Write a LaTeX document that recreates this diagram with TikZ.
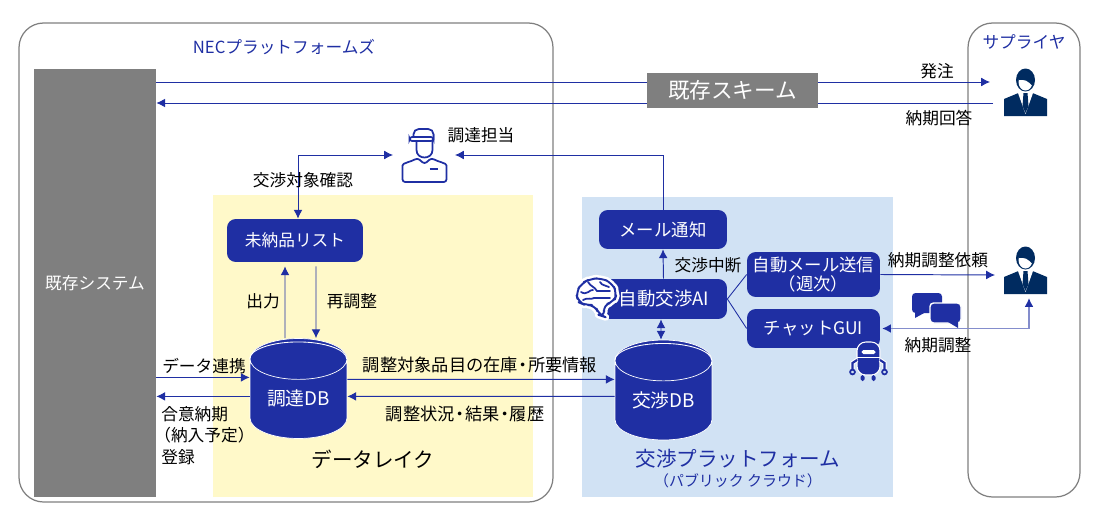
\documentclass[tikz,border=0pt]{standalone}
\usepackage{fontspec}
\setmainfont{Noto Sans CJK JP}
\usepackage{tikz}
\usetikzlibrary{arrows.meta,calc,positioning,shapes.geometric}
\definecolor{Navy}{HTML}{1F2FA3}
\definecolor{DeepNavy}{HTML}{002B60}
\definecolor{Ash}{HTML}{7F7F7F}
\definecolor{Lake}{HTML}{FFF9C9}
\definecolor{Cloud}{HTML}{D1E2F4}
\newcommand{\nakaten}{\hspace{-0.2em}・\hspace{-0.2em}}
\tikzset{
  conn/.style={draw=Navy,line width=0.55pt,-{Latex[length=5pt,width=5pt]}},
  bothconn/.style={draw=Navy,line width=0.55pt,{Latex[length=5pt,width=5pt,color=Navy]}-{Latex[length=5pt,width=5pt,color=Navy]}},
  frame/.style={draw=Ash,line width=0.7pt,rounded corners=14pt},
  bluebox/.style={fill=Navy,text=white,rounded corners=5pt,align=center,inner sep=0pt,font=\fontsize{9.9}{11}\selectfont},
  lbl/.style={font=\fontsize{9.5}{12.2}\selectfont,inner sep=0pt,align=left},
  wide/.style={font=\fontsize{9.8}{12}\selectfont},
  bigscheme/.style={font=\fontsize{11.7}{14}\selectfont},
  dbase/.style={cylinder,shape border rotate=90,shape aspect=0.65,fill=Navy,draw=white,line width=0.4pt,text=white,inner sep=0pt,anchor=shape center,
    minimum width=1.94cm,minimum height=2cm,font=\fontsize{10.7}{12}\selectfont},
  pics/suit/.style={code={
    \fill[DeepNavy] (-21.5,23) -- (-21.5,6) -- (-7,0) -- (7,0) -- (21.5,6) -- (21.5,23) -- cycle;
    \fill[white] (-7.5,0) -- (7.5,0) -- (0,21) -- cycle;
    \fill[DeepNavy] (-2,0) -- (2,0) -- (3,13) -- (0,20) -- (-3,13) -- cycle;
    \fill[DeepNavy] (0,-13) circle[x radius=9.5,y radius=11.5];
    \fill[white] (0,-11) circle[x radius=7,y radius=8.5];
    \fill[DeepNavy] (-7,-13) .. controls (-1,-14) and (3,-12) .. (7,-7) -- (8,-16) -- (0,-22) -- (-7,-18) -- cycle;
  }},
  pics/worker/.style={code={
    \draw[Navy,line width=1pt,line join=round,fill=white,rounded corners=1.5pt]
      (-22,25) -- (-22,11) .. controls (-22,6) and (-14,5) .. (-7,1) -- (0,7) -- (7,1)
      .. controls (14,5) and (22,6) .. (22,11) -- (22,25) -- cycle;
    \draw[Navy,line width=1pt,fill=white] (-8,-16) -- (-8,-7) .. controls (-8,3) and (8,3) .. (8,-7) -- (8,-16);
    \draw[Navy,line width=1pt,fill=white,rounded corners=3pt] (-11,-17) -- (-11,-28) -- (9,-28) -- (9,-17);
    \draw[Navy,line width=1pt,rounded corners=1.5pt,fill=white] (-15,-20) rectangle (9,-16);
    \draw[Navy,line width=1pt] (5,12) -- (13,12);
  }},
  pics/brain/.style={code={
    \path[draw=white,line width=4pt,fill=white,line join=round,rounded corners=4pt]
      (-19,5) -- (-21,-5) -- (-15,-14) -- (-7,-18) -- (4,-19) -- (15,-14) -- (20,-4) -- (17,5) -- (6,8) -- (8,20) -- (2,18) -- (-2,8) -- (-12,8) -- cycle;
    \draw[Navy,line width=1.1pt,line join=round,rounded corners=4pt]
      (-19,5) -- (-21,-5) -- (-15,-14) -- (-7,-18) -- (4,-19) -- (15,-14) -- (20,-4) -- (17,5) -- (6,8) -- (8,20) -- (2,18) -- (-2,8) -- (-12,8) -- cycle;
    \draw[Navy,line width=1pt,line cap=round]
      (-16,-5) .. controls (-10,-1) and (-7,-8) .. (-4,-7)
      (-9,-15) .. controls (-6,-10) and (-3,-11) .. (0,-6) -- (13,-6)
      (-14,3) .. controls (-9,0) and (-6,3) .. (-3,1) -- (13,1)
      (3,-15) .. controls (5,-11) and (9,-12) .. (12,-10);
  }},
  pics/robot/.style={code={
    \fill[Navy] (0,-21.5) circle[radius=2];
    \draw[Navy,line width=0.6pt] (0,-21) -- (0,-18);
    \draw[white,line width=0.6pt,fill=Navy,rounded corners=5pt] (-11.5,-18) rectangle (11.5,15);
    \fill[white,rounded corners=1pt] (-7,-10) rectangle (7,-6);
    \draw[white,line width=0.5pt] (-11.5,-3) -- (11.5,-3);
    \draw[white,line width=2.4pt] (-11.5,0) -- (-16,3) -- (-16,10) (11.5,0) -- (16,3) -- (16,10);
    \draw[Navy,line width=1.2pt] (-11.5,0) -- (-16,3) -- (-16,10) (11.5,0) -- (16,3) -- (16,10);
    \draw[Navy,line width=1pt] (-16,12) circle[radius=2.4] (16,12) circle[radius=2.4];
    \fill[Navy,rounded corners=1pt] (-8,15) rectangle (-4,21) (3,15) rectangle (7,21);
  }},
  pics/chat/.style={code={
    \fill[Navy,rounded corners=2pt] (-24,-17) rectangle (6,3);
    \fill[Navy] (-21,2) -- (-21,8) -- (-10,2) -- cycle;
    \draw[white,line width=0.8pt,fill=Navy,rounded corners=2pt] (-6,-7) rectangle (25,13);
    \fill[Navy] (12,12) -- (22,18) -- (22,12) -- cycle;
  }},
}
\begin{document}
\begin{tikzpicture}[x=0.02cm,y=-0.02cm,>=Latex,font=\fontsize{9.5}{11}\selectfont]
  \useasboundingbox (0,0) rectangle (1099,524);
  \draw[frame] (19,23) rectangle (553,502);
  \draw[frame] (968,23) rectangle (1080,497);
  \fill[Lake] (213,195) rectangle (533,497);
  \fill[Cloud] (582,197) rectangle (893,497);
  \node[lbl,text=Navy] (necname) at (284,47) {NECプラットフォームズ};
  \node[lbl,text=Navy] (supname) at (1024,42) {サプライヤ};
  \node[fill=Ash,text=white,minimum width=2.44cm,minimum height=8.56cm,inner sep=0pt] (legacy) at (95,283) {既存システム};
  % boxes
  \node[bluebox,minimum width=2.72cm,minimum height=0.86cm,font=\fontsize{9.5}{11}\selectfont] (list) at (295,240.5) {未納品リスト};
  \node[bluebox,minimum width=2.56cm,minimum height=0.78cm] (mail) at (663,229.5) {メール通知};
  \node[bluebox,minimum width=2.54cm,minimum height=0.8cm,font=\fontsize{10.5}{12}\selectfont] (ai) at (663.5,299) {\hspace{0.02cm}自動交渉AI};
  \node[bluebox,minimum width=2.66cm,minimum height=0.9cm,font=\fontsize{9.9}{10.5}\selectfont] (auto) at (813.5,274.5) {自動メール送信\\（週次）};
  \node[bluebox,minimum width=2.66cm,minimum height=0.78cm] (gui) at (813.5,328.5) {チャットGUI};
  \node[dbase] (choDB) at (298.5,388.5) {調達DB};
  \node[dbase] (koDB) at (663.5,390) {交渉DB};
  \draw[white,line width=0.5pt] (choDB.before top) arc[start angle=180,end angle=360,x radius=48.5,y radius=17];
  \draw[white,line width=0.5pt] (koDB.before top) arc[start angle=180,end angle=360,x radius=48.5,y radius=17];
  % people
  \coordinate (tantou) at (424.5,157);
  \pic at (tantou) {worker};
  \coordinate (sup1) at (1025.5,93);
  \pic at (sup1) {suit};
  \coordinate (sup2) at (1025.5,271);
  \pic at (sup2) {suit};
  \pic at (597,297) {brain};
  \pic at (868.5,360) {robot};
  \pic at (936,310) {chat};
  % connectors
  \coordinate (ordL) at (legacy.east |- 0,82);
  \coordinate (ordR) at (990,82);
  \coordinate (ansR) at (993,103);
  \coordinate (ansL) at (legacy.east |- 0,103);
  \draw[conn] (ordL) -- (ordR);
  \draw[conn] (ansR) -- (ansL);
  \node[fill=Ash,text=white,minimum width=3.42cm,minimum height=0.7cm,inner sep=0pt,font=\fontsize{12.3}{14}\selectfont] (scheme) at (732.5,90.5) {既存スキーム};
  \coordinate (tanL) at (393,155);
  \coordinate (tanR) at (455,155);
  \draw[bothconn] (tanL) -| ([xshift=0.06cm]list.north);
  \draw[conn] (mail.north) |- (tanR);
  \draw[conn] ([xshift=-0.27cm]choDB.north) -- ([xshift=-0.2cm,yshift=-0.08cm]list.south);
  \draw[conn] ([xshift=0.42cm,yshift=-0.08cm]list.south) -- ([xshift=0.35cm]choDB.north);
  \coordinate (feedIn) at ([yshift=0.43cm]choDB.west);
  \coordinate (feedOut) at ([yshift=0.05cm]choDB.west);
  \draw[conn] (feedIn -| legacy.east) -- (feedIn);
  \draw[conn] (feedOut) -- (feedOut -| legacy.east);
  \draw[conn] ([yshift=0.39cm]choDB.east) -- ([yshift=0.42cm]koDB.west);
  \draw[conn] ([yshift=0.08cm]koDB.west) -- ([yshift=0.05cm]choDB.east);
  \draw[conn] (ai.north) -- (mail.south);
  \draw[bothconn] ([xshift=-0.05cm]ai.south) -- ([xshift=-0.05cm]koDB.north);
  \draw[Navy,line width=0.5pt] (auto.west) -- (ai.east) -- (gui.west);
  \draw[conn] (auto.east) -- (995,275);
  \coordinate (reply) at (1029,298);
  \draw[bothconn,draw=Navy!55,line width=0.9pt,shorten <=1pt] (gui.east) -| (reply);
  % labels
  \node[lbl] (l1) at (937,71) {発注};
  \node[lbl] (l2) at (939,118) {納期回答};
  \node[lbl] (l3) at (481,135) {調達担当};
  \node[lbl] (l4) at (303,180) {交渉対象確認};
  \node[lbl] (l5) at (263,301) {出力};
  \node[lbl] (l6) at (352,301) {再調整};
  \node[lbl] (l7) at (204,366) {データ連携};
  \node[lbl,anchor=north west] (l8) at (161,406) {合意納期\\\hspace*{-0.14cm}（納入予定）\\登録};
  \node[lbl,wide] (l9) at (480,365) {調整対象品目の在庫\nakaten 所要情報};
  \node[lbl,wide] (l10) at (465,414) {調整状況\nakaten 結果\nakaten 履歴};
  \node[lbl] (l11) at (708,265) {交渉中断};
  \node[lbl] (l12) at (938,260) {納期調整依頼};
  \node[lbl] (l13) at (938,345) {納期調整};
  \node[lbl,bigscheme] (l14) at (373,459) {データレイク};
  \node[lbl,bigscheme,text=Navy] (l15) at (738,459) {交渉プラットフォーム};
  \node[lbl,text=Navy,font=\fontsize{8.5}{10}\selectfont] (l16) at (738,481) {（パブリック クラウド）};
\end{tikzpicture}
\end{document}
